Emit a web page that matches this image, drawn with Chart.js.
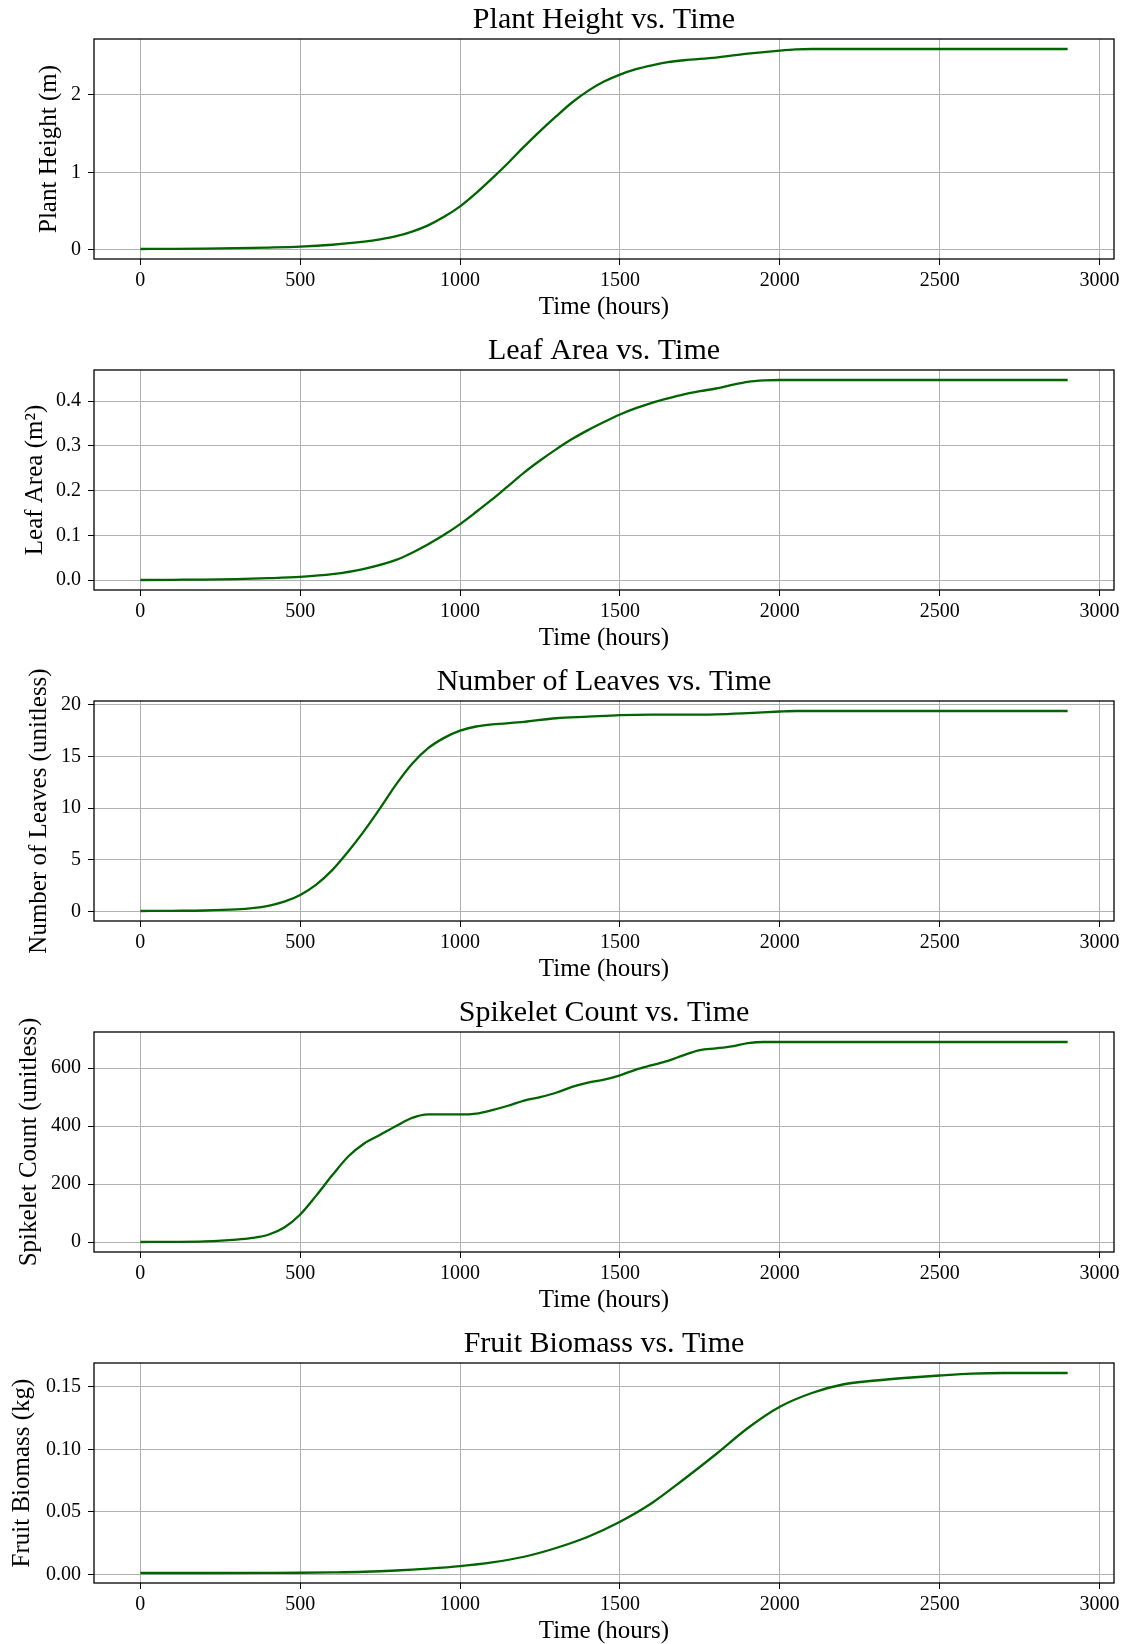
<!DOCTYPE html>
<html>
<head>
<meta charset="utf-8">
<script src="https://cdn.jsdelivr.net/npm/chart.js@4.4.1/dist/chart.umd.min.js"></script>
<style>
  html, body { margin: 0; padding: 0; background: #ffffff; }
  #wrap { position: relative; width: 1126px; height: 1644px; overflow: hidden; background: #fff; }
  canvas { position: absolute; left: 0; }
</style>
</head>
<body>
<div id="wrap"></div>
<script>
// ---------------- DATA ----------------
const xTicks = [0, 500, 1000, 1500, 2000, 2500, 3000];

const heightHours = [0,100,200,300,400,500,600,700,750,800,850,900,950,1000,1050,1100,1150,1200,1250,1300,1350,1400,1450,1500,1550,1600,1650,1700,1800,1900,2000,2050,2100,2200,2400,2600,2900];
const plantHeight = [0.010,0.012,0.015,0.020,0.028,0.040,0.065,0.105,0.135,0.175,0.235,0.315,0.425,0.56,0.73,0.92,1.12,1.33,1.53,1.72,1.90,2.05,2.17,2.26,2.33,2.38,2.42,2.445,2.48,2.53,2.57,2.585,2.59,2.59,2.59,2.59,2.59];

const leafHours = [0,100,200,300,400,500,600,700,800,850,900,950,1000,1050,1100,1150,1200,1250,1300,1350,1400,1450,1500,1550,1600,1650,1700,1750,1800,1850,1900,1950,2000,2200,2400,2600,2900];
const leafArea = [0,0.0005,0.001,0.002,0.004,0.007,0.013,0.025,0.045,0.061,0.08,0.101,0.125,0.152,0.18,0.21,0.24,0.267,0.292,0.315,0.335,0.353,0.37,0.384,0.396,0.406,0.415,0.422,0.428,0.436,0.443,0.446,0.447,0.447,0.447,0.447,0.447];

const leavesHours = [0,100,200,300,350,400,450,500,550,600,650,700,750,800,850,900,950,1000,1050,1100,1200,1300,1400,1500,1600,1700,1800,1900,2000,2050,2200,2500,2900];
const numLeaves = [0.05,0.07,0.1,0.2,0.32,0.55,0.95,1.6,2.6,4.0,5.8,7.8,10.0,12.3,14.3,15.8,16.8,17.5,17.9,18.1,18.35,18.7,18.85,19.0,19.05,19.05,19.08,19.2,19.35,19.4,19.4,19.4,19.4];

const spikeHours = [0,100,200,300,350,400,450,500,550,600,650,700,750,800,850,900,950,1000,1050,1100,1150,1200,1250,1300,1350,1400,1450,1500,1550,1600,1650,1700,1750,1800,1850,1900,1950,2000,2200,2500,2900];
const spikeletCount = [0,0.5,2,8,14,25,50,95,160,230,295,340,370,400,428,440,440,440,443,455,470,488,500,515,535,550,560,575,595,610,625,645,662,668,675,686,690,690,690,690,690];

const biomassHours = [0,200,400,500,600,700,800,900,1000,1100,1200,1300,1400,1500,1600,1700,1800,1900,2000,2100,2200,2300,2400,2500,2600,2700,2900];
const fruitBiomass = [0.001,0.001,0.0011,0.0012,0.0015,0.002,0.003,0.0045,0.0065,0.0095,0.014,0.021,0.030,0.042,0.057,0.076,0.096,0.117,0.134,0.145,0.152,0.155,0.1572,0.159,0.1605,0.161,0.161];

const titles = ["Plant Height vs. Time", "Leaf Area vs. Time", "Number of Leaves vs. Time", "Spikelet Count vs. Time", "Fruit Biomass vs. Time"];
const yLabels = ["Plant Height (m)", "Leaf Area (m\u00B2)", "Number of Leaves (unitless)", "Spikelet Count (unitless)", "Fruit Biomass (kg)"];
const xLabel = "Time (hours)";

const yTicks1 = [0, 1, 2];
const yTicks2 = [0.0, 0.1, 0.2, 0.3, 0.4];
const yTicks3 = [0, 5, 10, 15, 20];
const yTicks4 = [0, 200, 400, 600];
const yTicks5 = [0.00, 0.05, 0.10, 0.15];
const yDecimals = [0, 1, 0, 0, 2];

// ---------------- LAYOUT / STYLE ----------------
const FONT = "'Liberation Serif', 'Times New Roman', serif";
const LINE_COLOR = '#006400';
const BAND_H = 320;
const bandTops = [0, 331, 662, 993, 1324];
const ylabelCenters = [49, 35, 39, 29, 22];
const PLOT_LEFT = 94, PLOT_TOP = 39, PLOT_RIGHT_PAD = 12;
const YLABEL_SIZE = 25;

const frame = {
  id: 'frame',
  afterDraw(chart) {
    const a = chart.chartArea, ctx = chart.ctx;
    ctx.save();
    ctx.strokeStyle = '#000';
    ctx.lineWidth = 1.3;
    ctx.strokeRect(a.left, a.top, a.right - a.left, a.bottom - a.top);
    ctx.fillStyle = '#000';
    ctx.font = "30px " + FONT;
    ctx.textAlign = 'center';
    ctx.textBaseline = 'alphabetic';
    ctx.fillText(chart.options.plugins.frame.title, (a.left + a.right) / 2, 28);
    ctx.restore();
  }
};

const panels = [
  [heightHours, plantHeight, yTicks1],
  [leafHours, leafArea, yTicks2],
  [leavesHours, numLeaves, yTicks3],
  [spikeHours, spikeletCount, yTicks4],
  [biomassHours, fruitBiomass, yTicks5]
];

const wrap = document.getElementById('wrap');
panels.forEach((p, i) => {
  const [hrs, vals, yt] = p;
  const cv = document.createElement('canvas');
  cv.width = 1126; cv.height = BAND_H;
  cv.style.top = bandTops[i] + 'px';
  cv.style.width = '1126px'; cv.style.height = BAND_H + 'px';
  wrap.appendChild(cv);

  const xmin = Math.min(...hrs), xmax = Math.max(...hrs);
  const xr = xmax - xmin;
  const ymin = Math.min(...vals), ymax = Math.max(...vals);
  const yr = ymax - ymin;
  const padLeft = ylabelCenters[i] - YLABEL_SIZE / 2;

  new Chart(cv, {
    type: 'line',
    data: {
      datasets: [{
        data: hrs.map((h, k) => ({x: h, y: vals[k]})),
        borderColor: LINE_COLOR,
        borderWidth: 2.3,
        pointRadius: 0,
        fill: false,
        cubicInterpolationMode: 'monotone'
      }]
    },
    options: {
      responsive: false,
      animation: false,
      devicePixelRatio: 1,
      layout: { padding: { left: padLeft, right: PLOT_RIGHT_PAD, top: PLOT_TOP, bottom: 0 } },
      plugins: {
        legend: { display: false },
        tooltip: { enabled: false },
        title: { display: false },
        frame: { title: titles[i] }
      },
      scales: {
        x: {
          type: 'linear',
          min: xmin - 0.05 * xr,
          max: xmax + 0.05 * xr,
          afterBuildTicks: s => { s.ticks = xTicks.map(v => ({value: v})); },
          afterFit: s => { s.height = 61; s.paddingLeft = 0; s.paddingRight = 0; },
          grid: { color: '#b0b0b0', lineWidth: 1, tickColor: '#000', tickLength: 6, drawTicks: true },
          border: { display: false },
          ticks: {
            color: '#000', padding: 4, maxRotation: 0, autoSkip: false,
            font: { family: FONT, size: 20 },
            callback: v => String(v)
          },
          title: {
            display: true, text: xLabel, color: '#000',
            font: { family: FONT, size: 25, lineHeight: 1 },
            padding: 0
          }
        },
        y: {
          type: 'linear',
          min: ymin - 0.05 * yr,
          max: ymax + 0.05 * yr,
          afterBuildTicks: s => { s.ticks = yt.map(v => ({value: v})); },
          afterFit: s => { s.width = PLOT_LEFT - padLeft; s.paddingTop = 0; s.paddingBottom = 0; },
          grid: { color: '#b0b0b0', lineWidth: 1, tickColor: '#000', tickLength: 6, drawTicks: true },
          border: { display: false },
          ticks: {
            color: '#000', padding: 7, autoSkip: false,
            font: { family: FONT, size: 20 },
            callback: v => Number(v).toFixed(yDecimals[i])
          },
          title: {
            display: true, text: yLabels[i], color: '#000',
            font: { family: FONT, size: YLABEL_SIZE, lineHeight: 1 },
            padding: 0
          }
        }
      }
    },
    plugins: [frame]
  });
});
</script>
</body>
</html>
